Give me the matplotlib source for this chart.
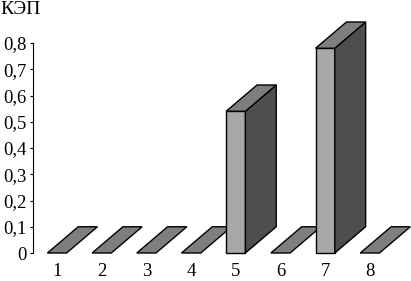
import matplotlib.pyplot as plt
from matplotlib.patches import Polygon

categories = [1, 2, 3, 4, 5, 6, 7, 8]
values = [0, 0, 0, 0, 0.54, 0, 0.78, 0]
y_ticks = [0, 0.1, 0.2, 0.3, 0.4, 0.5, 0.6, 0.7, 0.8]
y_labels = ["0", "0,1", "0,2", "0,3", "0,4", "0,5", "0,6", "0,7", "0,8"]

plt.rcParams['font.family'] = ['Liberation Serif', 'DejaVu Serif']

fig = plt.figure(figsize=(4.11, 2.81), dpi=100)
ax = fig.add_axes([33 / 411, 28 / 281, 378 / 411, 210 / 281])

half = 0.215   # half width of the front face
dx = 0.69      # depth shift to the right
dy = 0.1       # depth shift upwards (in value units)
front_c = "#a8a8a8"
side_c = "#4e4e4e"
top_c = "#7e7e7e"


def draw_bar(x, h):
    x0 = x - half
    x1 = x + half
    if h > 0:
        front = Polygon([[x0, 0], [x1, 0], [x1, h], [x0, h]], closed=True,
                        fc=front_c, ec="black", lw=1.0, clip_on=False)
        side = Polygon([[x1, 0], [x1 + dx, dy], [x1 + dx, h + dy], [x1, h]], closed=True,
                       fc=side_c, ec="black", lw=1.0, clip_on=False)
        ax.add_patch(front)
        ax.add_patch(side)
    top = Polygon([[x0, h], [x1, h], [x1 + dx, h + dy], [x0 + dx, h + dy]], closed=True,
                  fc=top_c, ec="black", lw=1.0, clip_on=False)
    ax.add_patch(top)


for c, v in zip(categories, values):
    draw_bar(c, v)

ax.set_xlim(0.463, 8.92)
ax.set_ylim(0, 0.8)
ax.set_yticks(y_ticks)
ax.set_yticklabels(y_labels)
ax.set_xticks(categories)
ax.set_xticklabels([str(c) for c in categories])
ax.tick_params(axis="y", direction="out", length=2.5, width=0.8, pad=2, labelsize=13.5)
ax.tick_params(axis="x", length=0, pad=7, labelsize=13.5)
for s in ["top", "right", "bottom"]:
    ax.spines[s].set_visible(False)
ax.spines["left"].set_linewidth(0.8)
ax.patch.set_alpha(0)

fig.text(0.0, 1 - 1 / 281, "КЭП", ha="left", va="top", fontsize=14)

fig.savefig("out.png", dpi=100)
